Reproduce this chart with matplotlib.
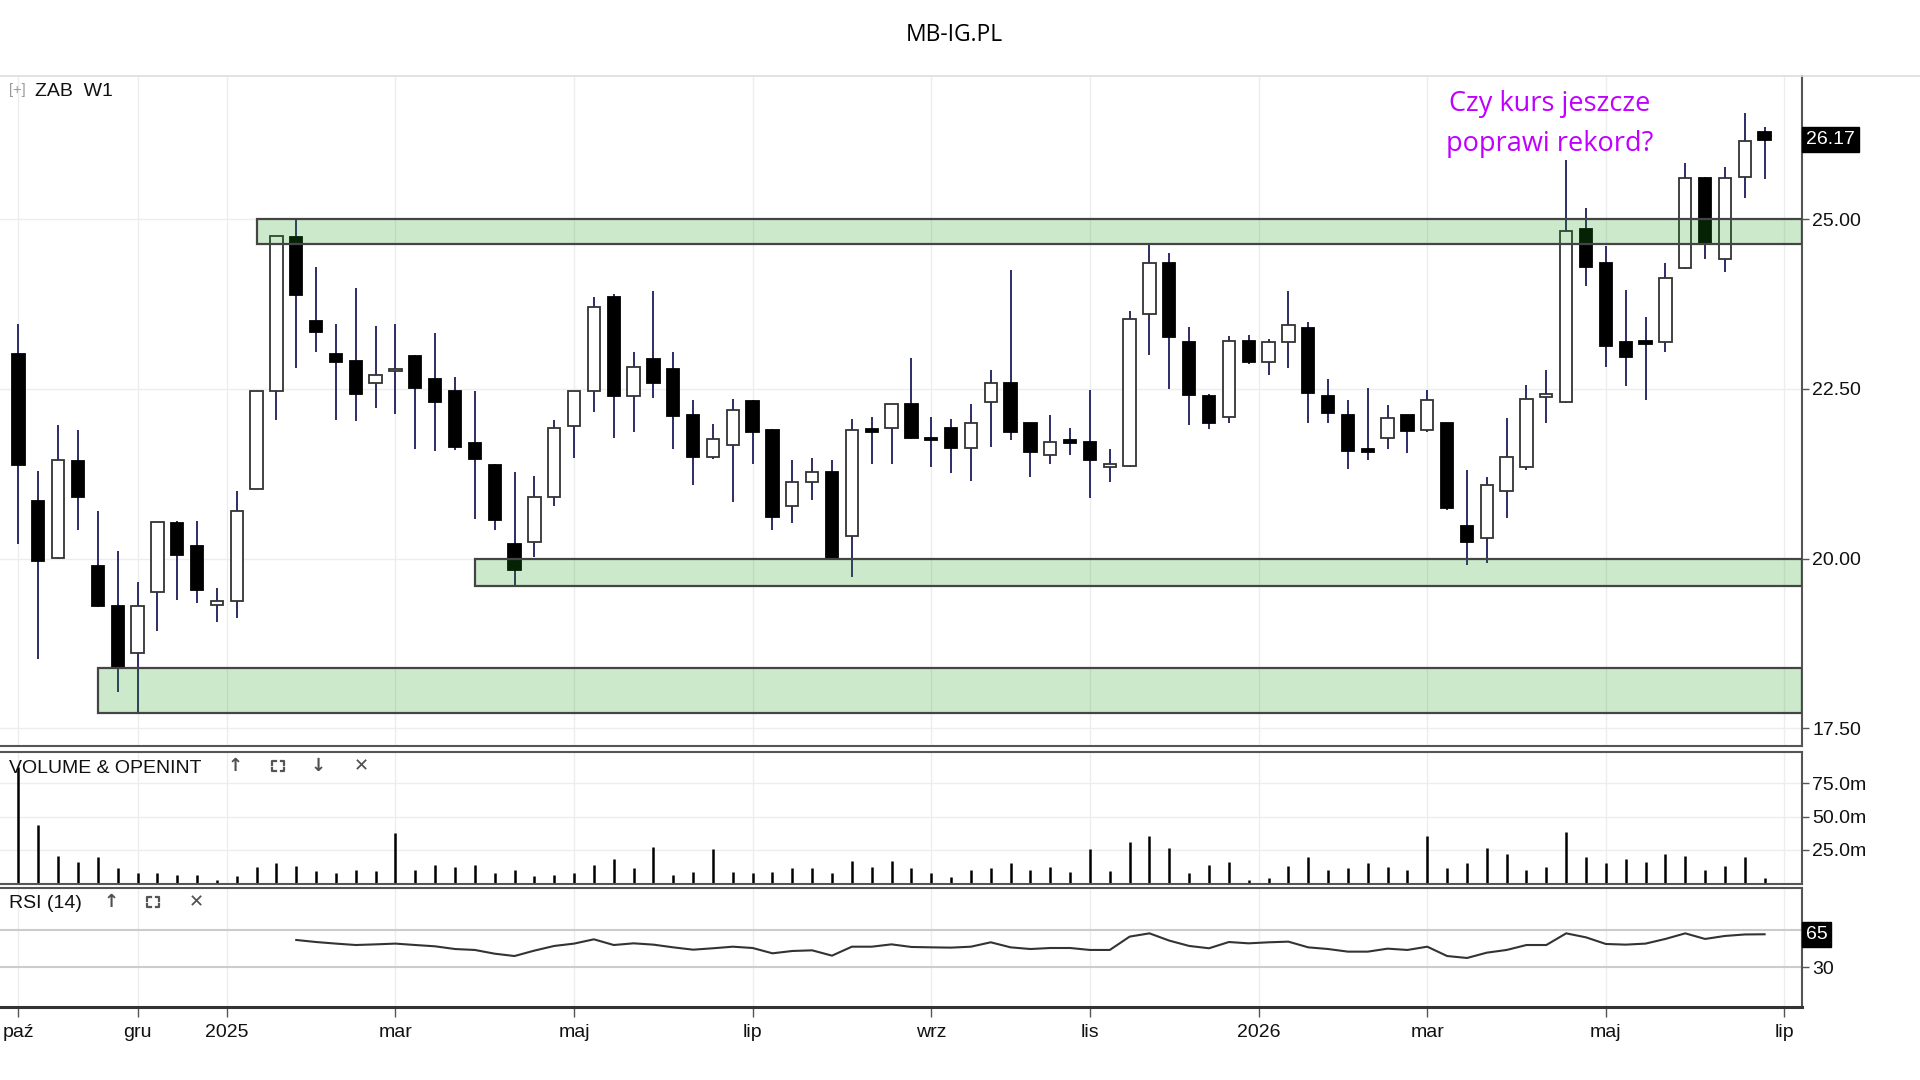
import numpy as np
import matplotlib.pyplot as plt
from matplotlib.patches import Rectangle
from matplotlib.lines import Line2D

plt.rcParams['font.family'] = ['Liberation Sans', 'DejaVu Sans']

# weekly candles ZAB (index based, first = early Oct 2024)
opens = [23.01, 20.85, 20.01, 21.44, 19.89, 19.30, 18.61, 19.51, 20.52, 20.19,
         19.32, 19.37, 21.02, 22.47, 24.74, 23.50, 23.01, 22.91, 22.59, 22.76,
         22.99, 22.64, 22.47, 21.70, 21.38, 20.22, 20.24, 20.91, 21.95, 22.47,
         23.85, 22.39, 22.94, 22.79, 22.12, 21.50, 21.68, 22.32, 21.90, 20.77,
         21.13, 21.28, 20.34, 21.89, 21.92, 22.27, 21.78, 21.93, 21.63, 22.30,
         22.58, 21.99, 21.53, 21.74, 21.72, 21.35, 21.36, 23.60, 24.35, 23.19,
         22.40, 22.09, 23.21, 22.90, 23.19, 23.40, 22.39, 22.12, 21.59, 21.78,
         22.11, 21.89, 21.99, 20.48, 20.31, 21.00, 21.35, 22.38, 22.30, 24.85,
         24.35, 23.19, 23.19, 23.19, 24.28, 25.61, 24.42, 25.62, 26.29]
highs = [23.45, 21.29, 21.97, 21.90, 20.70, 20.11, 19.65, 20.54, 20.55, 20.55,
         19.57, 21.00, 22.47, 24.75, 25.00, 24.29, 23.45, 23.99, 23.43, 23.45,
         23.00, 23.32, 22.67, 22.47, 21.40, 21.28, 21.22, 22.04, 22.47, 23.86,
         23.90, 23.04, 23.94, 23.04, 22.34, 21.98, 22.35, 22.33, 21.91, 21.45,
         21.48, 21.45, 22.05, 22.09, 22.27, 22.95, 22.09, 22.05, 22.28, 22.78,
         24.25, 22.00, 22.11, 21.92, 22.49, 21.61, 23.64, 24.64, 24.50, 23.41,
         22.42, 23.28, 23.30, 23.24, 23.94, 23.48, 22.65, 22.34, 22.51, 22.26,
         22.12, 22.49, 22.00, 21.30, 21.20, 22.07, 22.56, 22.78, 25.87, 25.16,
         24.60, 23.95, 23.56, 24.35, 25.83, 25.62, 25.77, 26.57, 26.36]
lows = [20.22, 18.52, 19.99, 20.42, 19.29, 18.03, 17.74, 18.94, 19.39, 19.35,
        19.06, 19.13, 21.02, 22.04, 22.81, 23.04, 22.04, 22.02, 22.22, 22.13,
        21.62, 21.59, 21.60, 20.58, 20.42, 19.60, 20.02, 20.77, 21.48, 22.16,
        21.77, 21.86, 22.37, 21.61, 21.09, 21.47, 20.84, 21.40, 20.42, 20.53,
        20.87, 19.98, 19.73, 21.40, 21.40, 21.76, 21.35, 21.26, 21.15, 21.65,
        21.74, 21.20, 21.40, 21.53, 20.89, 21.13, 21.35, 23.00, 22.50, 21.97,
        21.91, 22.00, 22.86, 22.70, 22.81, 22.00, 21.99, 21.32, 21.45, 21.62,
        21.55, 21.87, 20.72, 19.90, 19.94, 20.60, 21.30, 22.00, 22.29, 24.02,
        22.82, 22.54, 22.34, 23.04, 24.27, 24.41, 24.22, 25.31, 25.59]
closes = [21.38, 19.96, 21.45, 20.91, 19.30, 18.39, 19.30, 20.54, 20.06, 19.53,
          19.37, 20.70, 22.47, 24.75, 23.88, 23.34, 22.90, 22.42, 22.71, 22.80,
          22.52, 22.31, 21.64, 21.46, 20.57, 19.83, 20.91, 21.93, 22.47, 23.70,
          22.39, 22.82, 22.59, 22.10, 21.50, 21.76, 22.19, 21.87, 20.62, 21.13,
          21.28, 20.01, 21.89, 21.87, 22.27, 21.77, 21.74, 21.63, 22.00, 22.58,
          21.87, 21.57, 21.72, 21.71, 21.45, 21.39, 23.53, 24.35, 23.27, 22.41,
          22.00, 23.21, 22.90, 23.19, 23.44, 22.44, 22.14, 21.59, 21.57, 22.07,
          21.88, 22.34, 20.75, 20.25, 21.09, 21.50, 22.35, 22.42, 24.83, 24.30,
          23.13, 22.97, 23.16, 24.14, 25.61, 24.65, 25.61, 26.15, 26.17]

# volume in millions
volume = [87.5, 43.5, 20.8, 16.3, 20, 11.5, 7.5, 7.5, 6.5, 6.5,
          2.75, 5.75, 12.5, 15.25, 13.25, 9.5, 7.5, 10.25, 9.5, 37.75,
          10.25, 14, 12.5, 14, 7.5, 10.25, 5.75, 6.5, 7.5, 14,
          18, 11.25, 27.25, 6.5, 8.5, 25.5, 8.5, 7.5, 8.5, 11.25,
          11.25, 7.5, 17, 12.25, 17, 11.25, 7.5, 4.75,
          10.25, 11.5, 15, 10.25, 12.5, 8.5, 25.5, 9.5, 31.25, 35.75,
          26.5, 7.5, 14, 16.25, 2.75, 3.75, 13.25, 20, 10.25, 11.5,
          15, 12.25, 10.25, 35.75, 11.5, 15, 26.5, 21.75, 10.25, 12.25,
          38.75, 20, 15, 18, 16.25, 21.75, 20.75, 10.25, 13.25, 20, 3.75]

# RSI(14), starts at candle 15
rsi_start = 14
rsi = [59.3, 57.1, 55.4, 53.9, 54.6, 55.4, 53.9, 52.5, 49.6, 48.6,
       44.6, 42.1, 47.9, 52.9, 55.4, 60.0, 53.9, 55.7, 54.3, 51.4,
       48.9, 50.4, 52.1, 50.7, 45.0, 47.5, 48.2, 42.5, 52.1, 52.1,
       54.6, 51.8, 51.4, 51.1,
       52.1, 56.8, 51.4, 49.6, 50.7, 50.7, 48.6, 48.6, 62.9, 66.4,
       58.6, 52.9, 50.4, 57.1, 55.7, 56.8, 57.5, 51.4, 49.6, 46.8,
       46.8, 50.0, 48.6, 52.1, 42.1, 40.0, 45.7, 48.6, 53.9, 53.9,
       66.4, 62.1, 55.0, 54.3, 55.4, 60.4, 66.4, 60.4, 63.6, 65.2, 65.4]

# support / resistance zones: (first candle, low, high)
zones = [(12, 24.64, 25.00), (23, 19.60, 20.00), (4, 17.73, 18.39)]

month_pos = [0, 6, 10.5, 19, 28, 37, 46, 54, 62.5, 71, 80, 89]
month_labels = ['paź', 'gru', '2025', 'mar', 'maj', 'lip', 'wrz', 'lis', '2026', 'mar', 'maj', 'lip']

o = np.array(opens)
h = np.array(highs)
l = np.array(lows)
c = np.array(closes)
x = np.arange(len(o))
up = c >= o
xmin, xmax = -0.93, 89.9

fig = plt.figure(figsize=(19.2, 10.8), dpi=100)
ax = fig.add_axes([0, 0.3093, 0.9387, 0.6204])
axv = fig.add_axes([0, 0.1815, 0.9387, 0.1222], sharex=ax)
axr = fig.add_axes([0, 0.0676, 0.9387, 0.1102], sharex=ax)

dark = '#555555'
for a in (ax, axv, axr):
    a.set_facecolor('white')
    a.spines['left'].set_visible(False)
    for s in ('top', 'bottom', 'right'):
        a.spines[s].set_color(dark)
        a.spines[s].set_linewidth(1.5)
    a.yaxis.tick_right()
    a.tick_params(axis='y', direction='out', length=5, width=1, color=dark,
                  labelsize=14, pad=2, labelcolor='#111111')
    for p in month_pos:
        a.axvline(p, color='#ededed', lw=1, zorder=0)
ax.spines['top'].set_visible(False)
fig.add_artist(Line2D([0, 1], [0.9297, 0.9297], color='#dddddd', lw=1.2,
                      transform=fig.transFigure))

# price panel
ax.vlines(x, l, h, color='#1c1c5c', lw=1.3, zorder=2)
ax.bar(x, np.maximum(np.abs(c - o), 0.04), bottom=np.minimum(o, c), width=0.62,
       color=np.where(up, 'white', 'black'), edgecolor=np.where(up, '#333333', 'black'),
       linewidth=1.3, zorder=3)
for start, lo, hi in zones:
    ax.add_patch(Rectangle((start, lo), xmax - start, hi - lo, facecolor=(0.1, 0.61, 0.1, 0.22),
                           edgecolor='#444444', lw=1.6, zorder=4))
ax.set_ylim(17.24, 27.11)
ax.set_xlim(xmin, xmax)
price_ticks = [17.5, 20.0, 22.5, 25.0]
ax.set_yticks(price_ticks)
ax.set_yticklabels([f'{t:.2f}' for t in price_ticks])
for t in price_ticks:
    ax.axhline(t, color='#ededed', lw=1, zorder=0)
ax.tick_params(axis='x', bottom=False, labelbottom=False)
ax.annotate(f'{closes[-1]:.2f}', xy=(1, closes[-1]), xycoords=('axes fraction', 'data'),
            xytext=(2.5, 0), textcoords='offset points', ha='left', va='center',
            color='white', fontsize=14, annotation_clip=False,
            bbox=dict(boxstyle='square,pad=0.2', fc='black', ec='black'))
ax.text(0.86, 0.928, 'Czy kurs jeszcze\npoprawi rekord?', transform=ax.transAxes,
        ha='center', va='center', color='#c000ff', fontsize=19.5, family='Open Sans',
        linespacing=1.6)

# volume panel
axv.vlines(x, 0, volume, color='black', lw=1.8, zorder=2)
axv.set_ylim(-0.5, 98.5)
vol_ticks = [25, 50, 75]
axv.set_yticks(vol_ticks)
axv.set_yticklabels([f'{t:.1f}m' for t in vol_ticks])
for t in vol_ticks:
    axv.axhline(t, color='#ededed', lw=1, zorder=0)
axv.tick_params(axis='x', bottom=False, labelbottom=False)

# RSI panel
axr.plot(x[rsi_start:rsi_start + len(rsi)], rsi, color='#333333', lw=1.5, zorder=3)
axr.set_ylim(-12.5, 115)
axr.axhline(70, color='#cccccc', lw=1.5, zorder=1)
axr.axhline(30, color='#cccccc', lw=1.5, zorder=1)
axr.set_yticks([30])
axr.set_yticklabels(['30'])
axr.annotate(f'{rsi[-1]:.0f}', xy=(1, rsi[-1]), xycoords=('axes fraction', 'data'),
             xytext=(2.5, 0), textcoords='offset points', ha='left', va='center',
             color='white', fontsize=14, annotation_clip=False,
             bbox=dict(boxstyle='square,pad=0.2', fc='black', ec='black'))
axr.spines['bottom'].set_color('#333333')
axr.spines['bottom'].set_linewidth(2.2)
axr.set_xticks(month_pos)
axr.set_xticklabels(month_labels)
axr.tick_params(axis='x', direction='out', length=7, width=1, color=dark,
                labelsize=14, pad=5, labelcolor='#111111')


def expand_icon(cx, cy):
    # small "fullscreen" corner icon, sizes in pixels
    fw, fh = fig.bbox.width, fig.bbox.height
    hw, hh, arm = 6, 5, 3.5
    for sx in (-1, 1):
        for sy in (-1, 1):
            px, py = cx * fw + sx * hw, cy * fh + sy * hh
            xs = [px - sx * arm, px, px]
            ys = [py, py, py - sy * arm]
            fig.add_artist(Line2D([v / fw for v in xs], [v / fh for v in ys],
                                  color='#555555', lw=1.6, transform=fig.transFigure))


# header texts
icon_kw = dict(ha='center', va='center', fontsize=13, color='#505050',
               family='DejaVu Sans', fontweight='bold')
fig.text(0.497, 0.968, 'MB-IG.PL', ha='center', va='center', fontsize=16.5, family='Open Sans')
fig.text(0.0045, 0.9167, '[+]', ha='left', va='center', fontsize=10.5, color='#999999')
fig.text(0.0182, 0.9157, 'ZAB  W1', ha='left', va='center', fontsize=14, color='#111111')
fig.text(0.0047, 0.2885, 'VOLUME & OPENINT', ha='left', va='center', fontsize=14, color='#111111')
fig.text(0.1224, 0.2905, '↑', **icon_kw)
expand_icon(0.1448, 0.2905)
fig.text(0.1656, 0.2905, '↓', **icon_kw)
fig.text(0.188, 0.2905, '✕', **icon_kw)
fig.text(0.0047, 0.1632, 'RSI (14)', ha='left', va='center', fontsize=14, color='#111111')
fig.text(0.0581, 0.1648, '↑', **icon_kw)
expand_icon(0.0797, 0.1648)
fig.text(0.1021, 0.1648, '✕', **icon_kw)

fig.savefig('out.png', dpi=100, facecolor='white')
